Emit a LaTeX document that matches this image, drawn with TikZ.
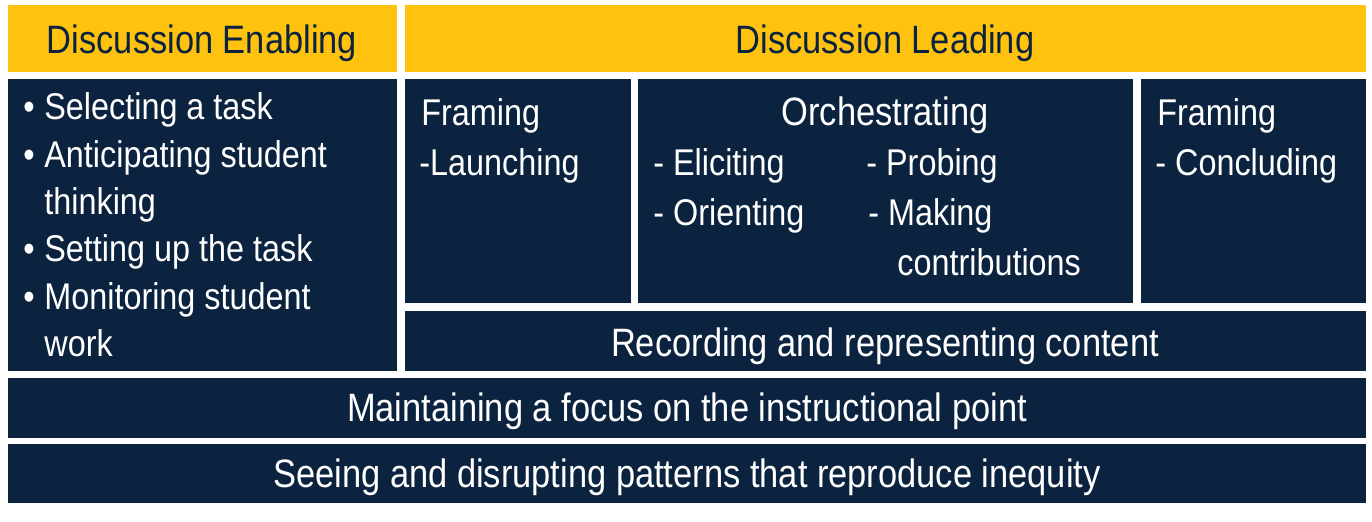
\documentclass[tikz,border=0pt]{standalone}
\usepackage{fontspec}
\setmainfont[FakeStretch=0.87]{Liberation Sans}
\definecolor{navy}{HTML}{0C2340}
\definecolor{gold}{HTML}{FFC20E}
\begin{document}
\begin{tikzpicture}[x=0.5pt,y=-0.5pt,
  dk/.style={fill=navy,draw=none},
  yl/.style={fill=gold,draw=none},
  wt/.style={text=white,font=\fontsize{18.6}{23.5}\selectfont,inner sep=0pt,anchor=base west},
  wc/.style={wt,anchor=base,font=\fontsize{19.8}{23.5}\selectfont},
  nt/.style={wc,text=navy}]
\useasboundingbox (0,0) rectangle (1372,522);
\path[yl] (8,5) rectangle (397,72) node[midway,name=enab]{};
\path[yl] (405,5) rectangle (1366,72) node[midway,name=lead]{};
\path[dk] (8,79) rectangle (397,371) node[midway,name=left]{};
\path[dk] (405,79) rectangle (631,303) node[midway,name=launch]{};
\path[dk] (638,79) rectangle (1133,303) node[midway,name=orch]{};
\path[dk] (1141,79) rectangle (1366,303) node[midway,name=concl]{};
\path[dk] (405,311) rectangle (1366,371) node[midway,name=rec]{};
\path[dk] (8,378) rectangle (1366,438) node[midway,name=maint]{};
\path[dk] (8,444) rectangle (1366,503) node[midway,name=seeing]{};
\node[nt] (t1) at (202,54) {Discussion Enabling};
\node[nt] (t2) at (885,54) {Discussion Leading};
\foreach \y/\b/\t [count=\i] in {120/•/Selecting a task,168/•/Anticipating student,215//thinking,262/•/Setting up the task,310/•/Monitoring student,357//work}{
  \node[wt] (lb\i) at (23,\y) {\b};
  \node[wt] (l\i) at (44,\y) {\t};}
\node[wt] (f1) at (421,126) {Framing};
\node[wt] (f2) at (419,176) {-Launching};
\node[wc] (o0) at (885,126) {Orchestrating};
\node[wt] (o1) at (653,176) {- Eliciting};
\node[wt] (o2) at (653,226) {- Orienting};
\node[wt] (o3) at (866,176) {- Probing};
\node[wt] (o4) at (868,226) {- Making};
\node[wt] (o5) at (897,276) {contributions};
\node[wt] (c1) at (1157,126) {Framing};
\node[wt] (c2) at (1155,176) {- Concluding};
\node[wc] (r1) at (885,357) {Recording and representing content};
\node[wc] (m1) at (687,422) {Maintaining a focus on the instructional point};
\node[wc] (s1) at (687,488) {Seeing and disrupting patterns that reproduce inequity};
\end{tikzpicture}
\end{document}
